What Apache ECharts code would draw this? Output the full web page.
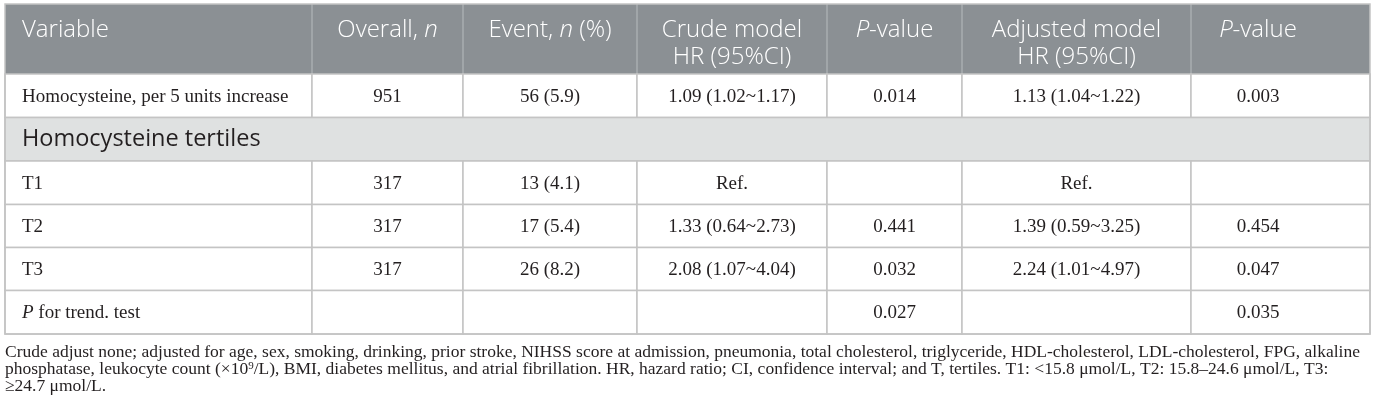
<!DOCTYPE html>
<html><head><meta charset="utf-8">
<script src="https://cdn.jsdelivr.net/npm/echarts@6/dist/echarts.min.js"></script>
<style>html,body{margin:0;padding:0;background:#fff}#c{width:1375px;height:415px}</style>
</head><body><div id="c"></div>
<script>
// ---- table content ----
const headerLabels = ['Variable', 'Overall, {hi|n}', 'Event, {hi|n} (%)', 'Crude model\nHR (95%CI)', '{hi|P}-value', 'Adjusted model\nHR (95%CI)', '{hi|P}-value'];
const variables = ['Homocysteine, per 5 units increase', 'Homocysteine tertiles', 'T1', 'T2', 'T3', '{bi|P} for trend. test'];
const overallN = ['951', '', '317', '317', '317', ''];
const eventN = ['56 (5.9)', '', '13 (4.1)', '17 (5.4)', '26 (8.2)', ''];
const crudeHR = ['1.09 (1.02~1.17)', '', 'Ref.', '1.33 (0.64~2.73)', '2.08 (1.07~4.04)', ''];
const crudeP = ['0.014', '', '', '0.441', '0.032', '0.027'];
const adjustedHR = ['1.13 (1.04~1.22)', '', 'Ref.', '1.39 (0.59~3.25)', '2.24 (1.01~4.97)', ''];
const adjustedP = ['0.003', '', '', '0.454', '0.047', '0.035'];
const groupRows = [1];
const footnoteLines = [
  'Crude adjust none; adjusted for age, sex, smoking, drinking, prior stroke, NIHSS score at admission, pneumonia, total cholesterol, triglyceride, HDL-cholesterol, LDL-cholesterol, FPG, alkaline',
  'phosphatase, leukocyte count (\u00d710{sup|9}/L), BMI, diabetes mellitus, and atrial fibrillation. HR, hazard ratio; CI, confidence interval; and T, tertiles. T1: <15.8 \u03bcmol/L, T2: 15.8\u201324.6 \u03bcmol/L, T3:',
  '\u226524.7 \u03bcmol/L.'
];

// ---- layout (pixel grid) ----
const colEdges = [5, 312, 463, 637, 827, 962, 1191, 1370];
const colTextX = [22, 387.5, 550, 732, 894.5, 1076.5, 1258];
const rowEdges = [4, 74, 117.5, 161, 204.5, 247.5, 290.5, 334];
const HEAD_BG = '#8b9094', GROUP_BG = '#dfe1e1', LINE = '#c4c4c4', HEAD_LINE = '#a9aeb1', INK = '#231f20';
const SANS = '"Open Sans", "Noto Sans", sans-serif';
const SERIF = '"Liberation Serif", "Times New Roman", serif';

const bodyCols = [variables, overallN, eventN, crudeHR, crudeP, adjustedHR, adjustedP];
const cells = [];
headerLabels.forEach((t, c) => cells.push({ v: [c, c + 1, 0, 1], text: t, kind: 'head' }));
variables.forEach((_, i) => {
  const r = i + 1;
  if (groupRows.includes(i)) {
    cells.push({ v: [0, 7, r, r + 1], text: variables[i], kind: 'group' });
  } else {
    bodyCols.forEach((col, c) => cells.push({ v: [c, c + 1, r, r + 1], text: col[i], kind: 'body' }));
  }
});

function renderItem(params, api) {
  const cell = cells[params.dataIndex];
  const c0 = api.value(0), c1 = api.value(1), r0 = api.value(2), r1 = api.value(3);
  const p0 = api.coord([colEdges[c0], rowEdges[r0]]);
  const p1 = api.coord([colEdges[c1], rowEdges[r1]]);
  const x = p0[0], y = p0[1], w = p1[0] - p0[0], h = p1[1] - p0[1];
  const children = [];
  const tx = api.coord([colTextX[c0], 0])[0];
  const align = c0 === 0 ? 'left' : 'center';
  if (cell.kind === 'head') {
    children.push({ type: 'rect', shape: { x, y, width: w, height: h }, style: { fill: HEAD_BG } });
    if (c0 > 0) children.push({ type: 'line', shape: { x1: x, y1: y, x2: x, y2: y + h }, style: { stroke: HEAD_LINE, lineWidth: 1.5 } });
    children.push({ type: 'text', style: { text: cell.text, x: tx, y: y + 12.5, align, verticalAlign: 'top',
      fill: '#ffffff', fontFamily: SANS, fontSize: 24, fontWeight: 350, lineHeight: 27,
      rich: { hi: { fontStyle: 'italic', fontFamily: SANS, fontSize: 24, fontWeight: 350, fill: '#ffffff', lineHeight: 27 } } } });
  } else if (cell.kind === 'group') {
    children.push({ type: 'rect', shape: { x, y, width: w, height: h }, style: { fill: GROUP_BG, stroke: LINE, lineWidth: 1.5 } });
    children.push({ type: 'text', style: { text: cell.text, x: tx, y: y + h / 2, align: 'left', verticalAlign: 'middle',
      fill: INK, fontFamily: SANS, fontSize: 23.5, fontWeight: 400 } });
  } else {
    children.push({ type: 'rect', shape: { x, y, width: w, height: h }, style: { fill: '#ffffff', stroke: LINE, lineWidth: 1.5 } });
    children.push({ type: 'text', style: { text: cell.text, x: tx, y: y + h / 2 + 1, align, verticalAlign: 'middle',
      fill: INK, fontFamily: SERIF, fontSize: 19,
      rich: { bi: { fontStyle: 'italic', fontFamily: SERIF, fontSize: 19, fill: INK } } } });
  }
  return { type: 'group', children };
}

const chart = echarts.init(document.getElementById('c'), null, { renderer: 'canvas' });
chart.setOption({
  animation: false,
  title: {
    text: footnoteLines.join('\n'), left: 5, top: 344, padding: 0,
    textStyle: { fontFamily: SERIF, fontSize: 17.5, fontWeight: 'normal', color: INK, lineHeight: 17,
      rich: { sup: { fontFamily: SERIF, fontSize: 11, color: INK, verticalAlign: 'top', lineHeight: 17, padding: [0, 0, 7, 0] } } }
  },
  grid: { left: 0, top: 0, width: 1375, height: 415, show: false },
  xAxis: { type: 'value', min: 0, max: 1375, show: false },
  yAxis: { type: 'value', min: 0, max: 415, inverse: true, show: false },
  series: [{
    type: 'custom', renderItem, coordinateSystem: 'cartesian2d', clip: false,
    data: cells.map(c => c.v)
  }, {
    type: 'custom', coordinateSystem: 'cartesian2d', data: [[0]],
    renderItem: (params, api) => {
      const a = api.coord([colEdges[0], rowEdges[0]]), b = api.coord([colEdges[7], rowEdges[7]]);
      return { type: 'rect', shape: { x: a[0], y: a[1], width: b[0] - a[0], height: b[1] - a[1] },
        style: { fill: 'none', stroke: LINE, lineWidth: 1.5 } };
    }
  }]
});
</script></body></html>
